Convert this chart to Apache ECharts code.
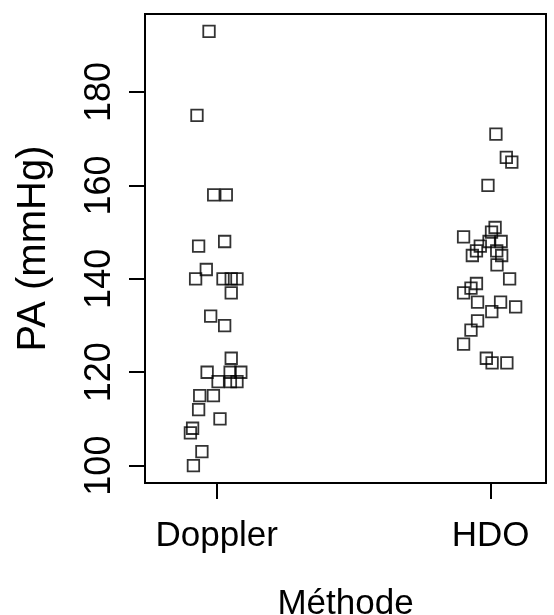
<!DOCTYPE html>
<html>
<head>
<meta charset="utf-8">
<script src="https://cdn.jsdelivr.net/npm/echarts@6/dist/echarts.min.js"></script>
<style>
  html, body { margin: 0; padding: 0; background: #fff; }
  #chart { width: 554px; height: 615px; }
</style>
</head>
<body>
<div id="chart"></div>
<script>
// Groups on the horizontal axis (positions 1 and 2)
const methods = ['Doppler', 'HDO'];

// Blood pressure readings (mmHg) with their jittered horizontal positions
const dopplerPA = [193, 175, 158, 158, 147, 148, 142, 140, 140, 140, 140, 137, 132, 130, 123,
                   120, 120, 120, 118, 118, 118, 115, 115, 112, 110, 108, 107, 103, 100];
const dopplerX  = [0.972, 0.928, 0.989, 1.035, 0.934, 1.029, 0.962, 0.923, 1.023, 1.053, 1.074,
                   1.053, 0.978, 1.029, 1.053, 0.965, 1.049, 1.088, 1.005, 1.050, 1.074, 0.938,
                   0.988, 0.934, 1.012, 0.912, 0.904, 0.946, 0.915];

const hdoPA = [171, 166, 165, 160, 149, 151, 150, 148, 148, 147, 146, 145, 146, 145, 143,
               140, 139, 138, 137, 135, 135, 133, 134, 131, 129, 126, 123, 122, 122];
const hdoX  = [2.019, 2.057, 2.077, 1.990, 1.901, 2.016, 2.003, 2.038, 1.994, 1.962, 1.948,
               1.933, 2.022, 2.040, 2.023, 2.069, 1.948, 1.928, 1.901, 1.952, 2.036, 2.004,
               2.091, 1.952, 1.928, 1.901, 1.984, 2.005, 2.059];

const yTicks = [100, 120, 140, 160, 180];
const xTicks = [1, 2];

const pairs = (xs, ys) => xs.map((x, i) => [x, ys[i]]);

const font = "'Liberation Sans', Arial, sans-serif";
const chart = echarts.init(document.getElementById('chart'), null, { renderer: 'canvas' });

const pointStyle = {
  type: 'scatter',
  symbol: 'rect',
  symbolSize: 11.5,
  itemStyle: { color: 'rgba(0,0,0,0)', borderColor: '#000', borderWidth: 1.8 },
  emphasis: { disabled: true },
  silent: true
};

chart.setOption({
  animation: false,
  backgroundColor: '#fff',
  grid: {
    left: 145, right: 8, top: 14, bottom: 132,
    outerBoundsMode: 'none',
    containLabel: false,
    show: true, borderColor: '#000', borderWidth: 2, backgroundColor: 'transparent'
  },
  xAxis: {
    type: 'value',
    min: 0.7383, max: 2.2018,
    name: 'Méthode',
    nameLocation: 'middle',
    nameGap: 104,
    nameTextStyle: { fontSize: 35, color: '#000', fontFamily: font },
    axisLine: { show: false },
    splitLine: { show: false },
    axisTick: { show: true, customValues: xTicks, length: 16, lineStyle: { color: '#000', width: 2 } },
    axisLabel: {
      customValues: xTicks,
      formatter: v => methods[Math.round(v) - 1],
      fontSize: 35, color: '#000', fontFamily: font, margin: 36
    }
  },
  yAxis: {
    type: 'value',
    min: 96.28, max: 196.72,
    name: 'PA (mmHg)',
    nameLocation: 'middle',
    nameRotate: 90,
    nameGap: 91,
    nameTextStyle: { fontSize: 40, color: '#000', fontFamily: font },
    axisLine: { show: false },
    splitLine: { show: false },
    axisTick: { show: true, customValues: yTicks, length: 16, lineStyle: { color: '#000', width: 2 } },
    axisLabel: {
      customValues: yTicks,
      rotate: 90,
      align: 'center',
      verticalAlign: 'bottom',
      fontSize: 36, color: '#000', fontFamily: font, margin: 27
    }
  },
  series: [
    Object.assign({ name: methods[0], data: pairs(dopplerX, dopplerPA) }, pointStyle),
    Object.assign({ name: methods[1], data: pairs(hdoX, hdoPA) }, pointStyle)
  ]
});
</script>
</body>
</html>
